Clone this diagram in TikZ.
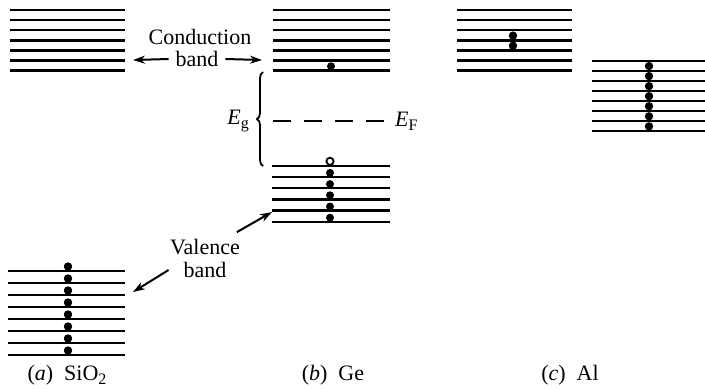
\documentclass[tikz,border=0pt]{standalone}
\usepackage{fontspec}
\setmainfont{Liberation Serif}
\usetikzlibrary{arrows.meta,decorations.pathreplacing}
\newcommand{\lowsub}[1]{\raisebox{-.4ex}{\footnotesize #1}}

\begin{document}
\begin{tikzpicture}[x=.5pt,y=-.5pt,font=\fontsize{11}{13}\selectfont,
  level/.style={line width=1.2pt},
  elec/.style={fill=black},
  hole/.style={draw=black,fill=white,line width=.9pt},
  pointer/.style={-{Stealth[length=6pt,width=4pt]},line width=1pt}]
  \useasboundingbox (0,0) rectangle (705,388);
  \foreach \i in {0,...,6} {
    \draw[level] (10,10+10.1*\i) -- (125,10+10.1*\i);
    \draw[level] (273,10+10.1*\i) -- (390,10+10.1*\i);
    \draw[level] (457,10+10.1*\i) -- (572,10+10.1*\i);
  }
  \foreach \i in {0,...,7} {
    \draw[level] (592,60.7+10.05*\i) -- (705,60.7+10.05*\i);
    \draw[level] (8,271+12*\i) -- (125,271+12*\i);
    \fill[elec] (68,266.5+12*\i) circle (2.1pt);
  }
  \foreach \i in {1,...,7}
    \fill[elec] (649,56+10.05*\i) circle (2.1pt);
  \foreach \i in {3,4}
    \fill[elec] (513,5.3+10.1*\i) circle (2.1pt);
  \foreach \i in {0,...,5}
    \draw[level] (272,165.7+11.2*\i) -- (390,165.7+11.2*\i);
  \foreach \i in {1,...,5}
    \fill[elec] (330,161.7+11.2*\i) circle (2pt);
  \fill[elec] (331,66.3) circle (2pt);
  \draw[hole] (330,161.3) circle (1.8pt);

  \draw[decorate,decoration={brace,amplitude=3pt},line width=.9pt] (263,166) -- (263,72);
  \node[anchor=east] (eg) at (256,121) {\textit{E}\lowsub{g}};
  \coordinate (fermi) at (273,121);
  \node[anchor=west] (ef) at (388,121) {\textit{E}\lowsub{F}};
  \draw[line width=1pt,dash pattern=on 9pt off 6.5pt] (fermi) -- (ef.west);

  \node (cond) at (200,37) {Conduction};
  \node (cband) at (197,59) {band};
  \coordinate (sio2c) at (133,60); \coordinate (gec) at (262,60);
  \draw[pointer] (cband.west) -- (sio2c);
  \draw[pointer] (cband.east) -- (gec);

  \node (val) at (205,247) {Valence};
  \node (vband) at (205,270) {band};
  \coordinate (sio2v) at (133,292); \coordinate (gev) at (272,212);
  \draw[pointer] ([xshift=-4pt]vband.west) -- (sio2v);
  \draw[pointer] ([xshift=-5pt]val.north east) -- (gev);

  \node (capa) at (67,375) {(\textit{a})\ \ SiO\lowsub{2}};
  \node (capb) at (333,375) {(\textit{b})\ \ Ge};
  \node (capc) at (570,375) {(\textit{c})\ \ Al};
\end{tikzpicture}
\end{document}
